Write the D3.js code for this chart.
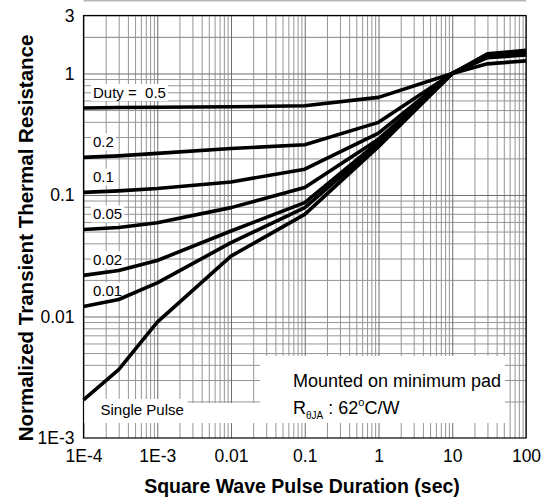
<!DOCTYPE html>
<html><head><meta charset="utf-8">
<script src="https://cdnjs.cloudflare.com/ajax/libs/d3/7.8.5/d3.min.js"></script>
<style>body{margin:0;background:#fff}svg{display:block}text{font-family:"Liberation Sans",Arial,sans-serif;white-space:pre}</style>
</head><body>
<svg id="c" width="552" height="501"></svg>
<script>
// Data
const pulseDurations = [1e-4, 3e-4, 1e-3, 1e-2, 0.1, 1, 10, 30, 100];
const duty05  = [0.52, 0.525, 0.528, 0.532, 0.542, 0.636, 1.0, 1.20, 1.27];
const duty02  = [0.204, 0.21, 0.22, 0.241, 0.259, 0.396, 1.0, 1.35, 1.42];
const duty01  = [0.105, 0.108, 0.113, 0.128, 0.163, 0.323, 1.0, 1.38, 1.46];
const duty005 = [0.052, 0.054, 0.059, 0.0787, 0.115, 0.288, 1.0, 1.40, 1.48];
const duty002 = [0.0218, 0.0239, 0.0289, 0.0505, 0.0865, 0.274, 1.0, 1.42, 1.50];
const duty001 = [0.0121, 0.0138, 0.0189, 0.0405, 0.0787, 0.262, 1.0, 1.43, 1.52];
const singlePulse = [0.00206, 0.00365, 0.009, 0.0314, 0.0693, 0.25, 1.0, 1.45, 1.55];
const seriesNames = ["Duty =  0.5", "0.2", "0.1", "0.05", "0.02", "0.01"];
const xTickValues = [1e-4, 1e-3, 1e-2, 0.1, 1, 10, 100];
const xTickLabels = ["1E-4", "1E-3", "0.01", "0.1", "1", "10", "100"];
const yTickValues = [1e-3, 1e-2, 0.1, 1, 3];
const yTickLabels = ["1E-3", "0.01", "0.1", "1", "3"];

const svg = d3.select("#c");
const L = 83.5, R = 526, T = 15.5, B = 438;
const x = d3.scaleLog().domain([1e-4, 100]).range([L, R]);
const y = d3.scaleLog().domain([1e-3, 3]).range([B, T]);

// minor / major grid values
const xMinor = [], yMinor = [];
for (let e = -4; e < 2; e++) for (let m = 2; m <= 9; m++) xMinor.push(m * Math.pow(10, e));
for (let e = -3; e < 1; e++) for (let m = 2; m <= 9; m++) yMinor.push(m * Math.pow(10, e));
yMinor.push(2);

const g = svg.append("g");
g.append("g").attr("transform", `translate(0,${B})`)
  .call(d3.axisBottom(x).tickValues(xMinor).tickSize(-(B - T)).tickFormat(""))
  .call(a => { a.select(".domain").remove(); a.selectAll("line").attr("stroke", "#959595"); });
g.append("g").attr("transform", `translate(${L},0)`)
  .call(d3.axisLeft(y).tickValues(yMinor).tickSize(-(R - L)).tickFormat(""))
  .call(a => { a.select(".domain").remove(); a.selectAll("line").attr("stroke", "#959595"); });
g.append("g").attr("transform", `translate(0,${B})`)
  .call(d3.axisBottom(x).tickValues(xTickValues).tickSize(-(B - T)).tickFormat(""))
  .call(a => { a.select(".domain").remove(); a.selectAll("line").attr("stroke", "#6e6e6e"); });
g.append("g").attr("transform", `translate(${L},0)`)
  .call(d3.axisLeft(y).tickValues([1e-2, 0.1, 1])).call(a => {
    a.select(".domain").remove(); a.selectAll("text").remove();
    a.selectAll("line").attr("x2", R - L).attr("stroke", "#6e6e6e"); });

// white boxes
svg.append("rect").attr("x", 260).attr("y", 356).attr("width", 245).attr("height", 67).attr("fill", "#fff");
svg.append("rect").attr("x", 187).attr("y", 403).attr("width", 80).attr("height", 20).attr("fill", "#fff");
svg.append("rect").attr("x", L + 0.5).attr("y", 399).attr("width", 187 - L).attr("height", 24).attr("fill", "#fff");

// curve labels with white background
const allSeries = [duty05, duty02, duty01, duty005, duty002, duty001];
const labG = svg.append("g");
allSeries.forEach((s, i) => {
  const t = labG.append("text").attr("x", 93).attr("y", y(s[0]) - 10)
    .attr("font-size", 15).attr("xml:space", "preserve").text(seriesNames[i]);
  const bb = t.node().getBBox();
  labG.insert("rect", "text").attr("x", bb.x - 2).attr("y", bb.y).attr("width", bb.width + 4)
    .attr("height", bb.height).attr("fill", "#fff");
});
svg.append("text").attr("x", 100.5).attr("y", 415).attr("font-size", 15).text("Single Pulse");

// curves
const line = d3.line().x(d => x(d[0])).y(d => y(d[1]));
[...allSeries, singlePulse].forEach(s => {
  svg.append("path").datum(pulseDurations.map((p, i) => [p, s[i]]))
    .attr("d", line).attr("fill", "none").attr("stroke", "#000")
    .attr("stroke-width", 3.6).attr("stroke-linejoin", "round");
});

// frame
svg.append("rect").attr("x", L).attr("y", T).attr("width", R - L).attr("height", B - T)
  .attr("fill", "none").attr("stroke", "#000").attr("stroke-width", 1.2);

// axis tick labels
svg.append("g").attr("transform", `translate(0,${B})`)
  .call(d3.axisBottom(x).tickValues(xTickValues).tickSize(0).tickPadding(12)
    .tickFormat((d, i) => xTickLabels[i]))
  .call(a => { a.select(".domain").remove();
    a.selectAll("text").attr("font-size", 17.5).attr("font-family", "Liberation Sans, Arial").attr("fill", "#000"); });
svg.append("g").attr("transform", `translate(${L},0)`)
  .call(d3.axisLeft(y).tickValues(yTickValues).tickSize(0).tickPadding(9)
    .tickFormat((d, i) => yTickLabels[i]))
  .call(a => { a.select(".domain").remove();
    a.selectAll("text").attr("font-size", 17.5).attr("font-family", "Liberation Sans, Arial").attr("fill", "#000"); });

// annotation
svg.append("text").attr("x", 293).attr("y", 387).attr("font-size", 18).text("Mounted on minimum pad");
const rt = svg.append("text").attr("x", 293).attr("y", 414).attr("font-size", 18);
rt.append("tspan").text("R");
rt.append("tspan").attr("font-size", 10).attr("dy", 5).text("\u03B8JA");
rt.append("tspan").attr("dy", -5).text(" : 62");
rt.append("tspan").attr("font-size", 11).attr("dy", -8).text("o");
rt.append("tspan").attr("dy", 8).text("C/W");

// axis titles
svg.append("text").attr("x", 302).attr("y", 493).attr("text-anchor", "middle")
  .attr("font-size", 19.5).attr("font-weight", "bold").text("Square Wave Pulse Duration (sec)");
svg.append("text").attr("transform", "translate(33,238) rotate(-90)").attr("text-anchor", "middle")
  .attr("font-size", 20.5).attr("font-weight", "bold").text("Normalized Transient Thermal Resistance");
</script>
</body></html>
